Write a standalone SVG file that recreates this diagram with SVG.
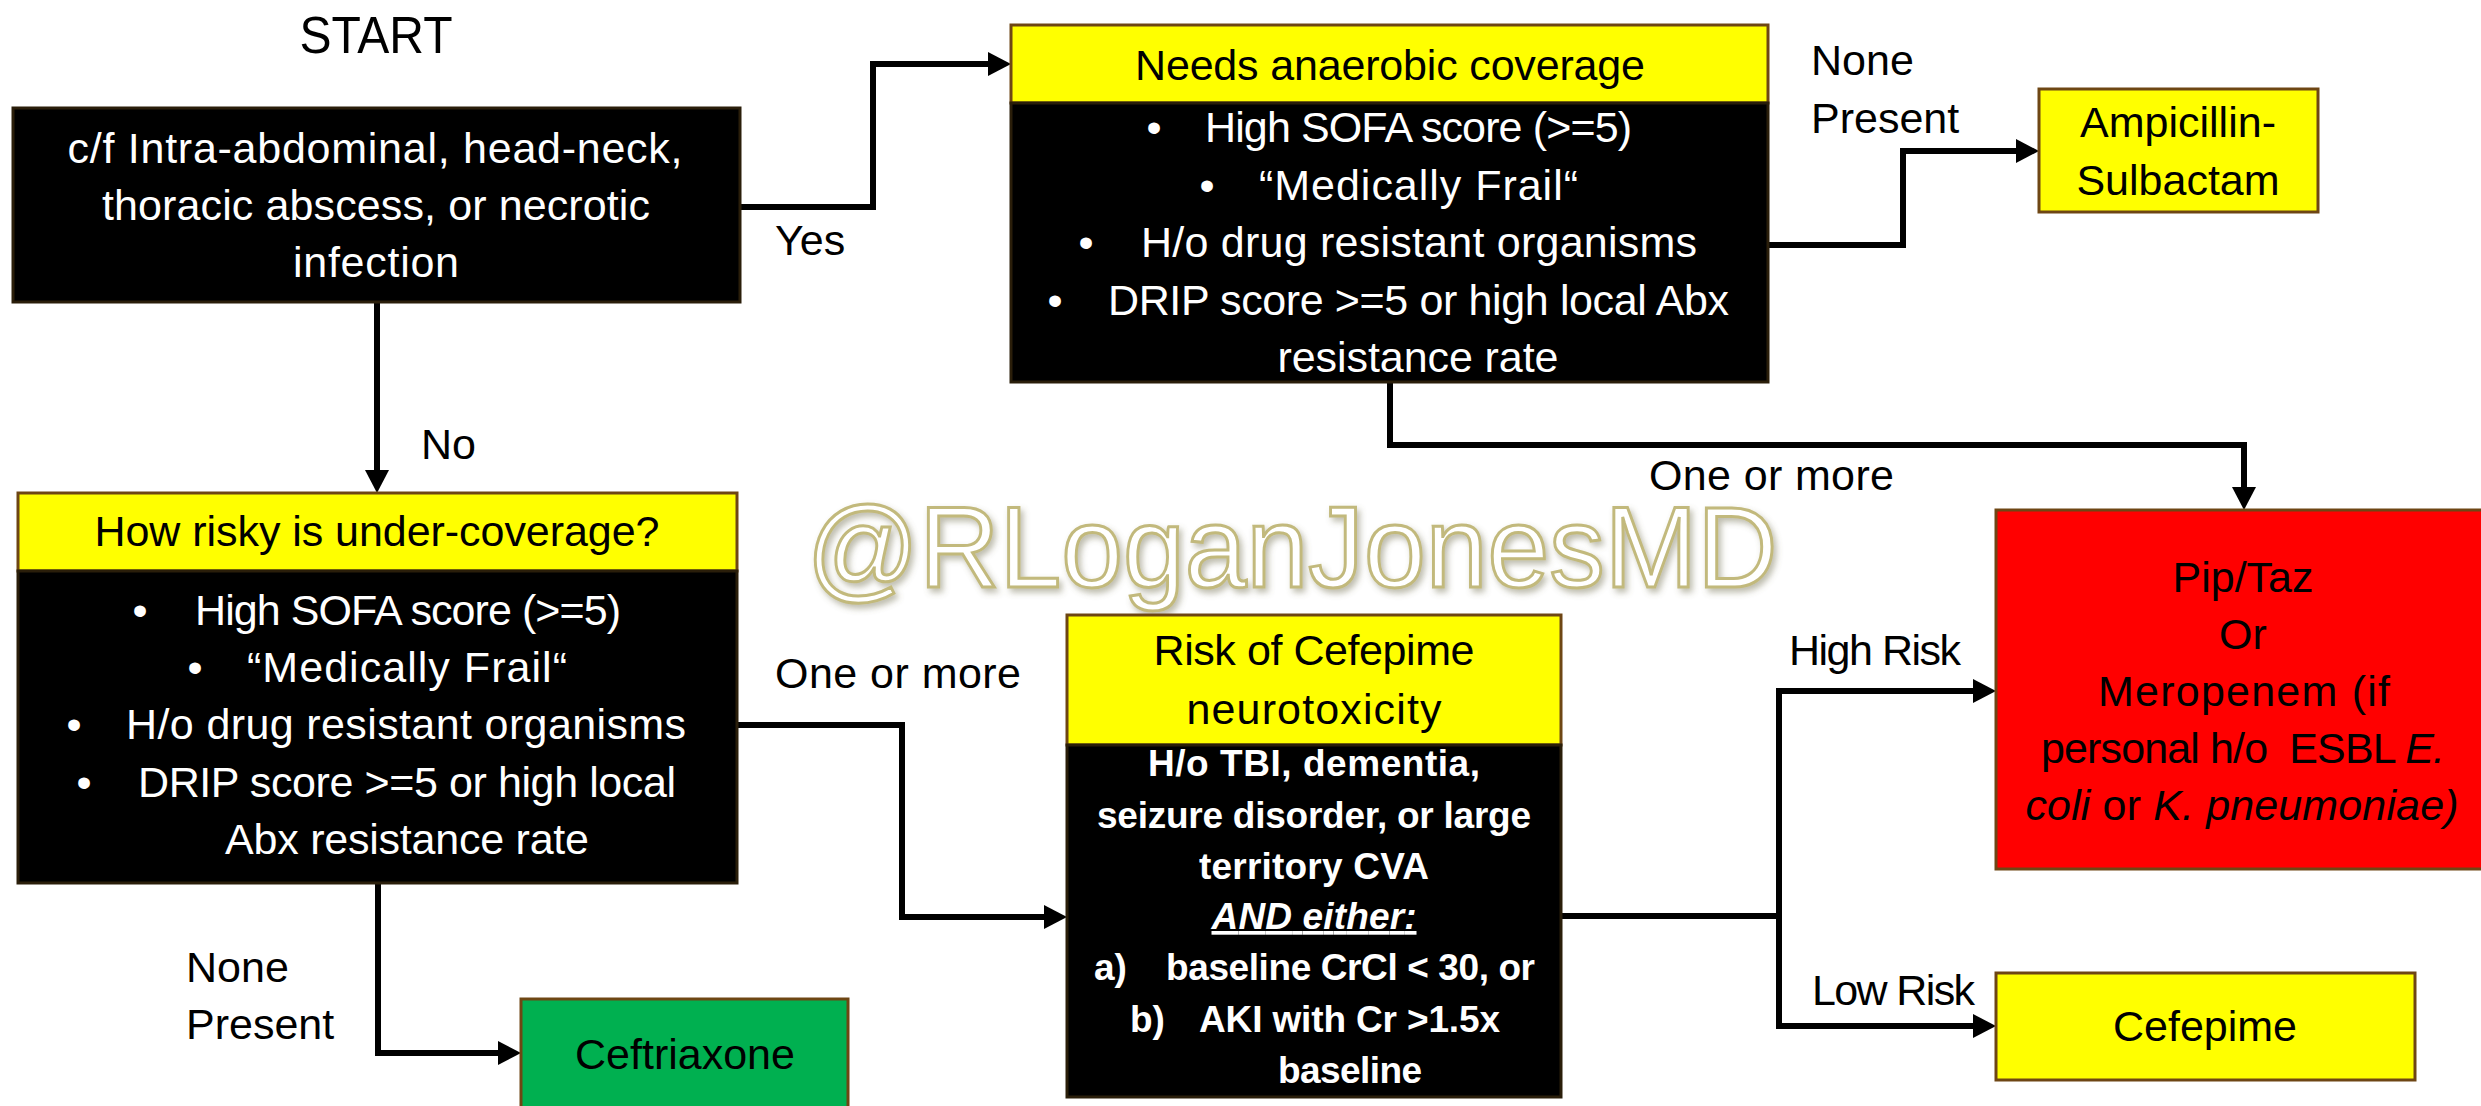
<svg xmlns="http://www.w3.org/2000/svg" width="2481" height="1106" viewBox="0 0 2481 1106">
<defs>
<style>
text{font-family:"Liberation Sans",Arial,sans-serif;font-size:43px}
.w{fill:#fff}
.k{fill:#000}
.c{text-anchor:middle}
.bd{font-weight:bold;font-size:37px}
.it{font-style:italic}
.yel{fill:#FFFF00;stroke:#6E4614;stroke-width:3}
.red{fill:#FF0000;stroke:#6E4614;stroke-width:3}
.grn{fill:#00B050;stroke:#6E4614;stroke-width:3}
.blk{fill:#000;stroke:#2a1e0a;stroke-width:3}
.conn{fill:none;stroke:#000;stroke-width:6;stroke-linejoin:miter;marker-end:url(#arr)}
.wm{font-size:115px;fill:#fff;stroke:#C2B97C;stroke-width:3}
</style>
<marker id="arr" markerUnits="userSpaceOnUse" viewBox="0 0 23 24" markerWidth="23" markerHeight="24" refX="3" refY="12" orient="auto">
<path d="M0,0 L23,12 L0,24 Z" fill="#000"/>
</marker>
<filter id="sh" x="-5%" y="-20%" width="110%" height="150%">
<feDropShadow dx="3" dy="4" stdDeviation="3" flood-color="#6f6a4a" flood-opacity="0.45"/>
</filter>
</defs>
<rect width="2481" height="1106" fill="#fff"/>

<g id="watermark">
<text class="wm c" x="1292" y="587" textLength="971" lengthAdjust="spacingAndGlyphs" filter="url(#sh)">@RLoganJonesMD</text>
</g>

<g id="connectors">
<path class="conn" d="M740,207 H873 V64 H991"/>
<path class="conn" d="M377,302 V473"/>
<path class="conn" d="M1768,245 H1903 V151 H2019"/>
<path class="conn" d="M1390,382 V445 H2244 V490"/>
<path class="conn" d="M737,725 H902 V917 H1047"/>
<path class="conn" d="M378,883 V1053 H501"/>
<path class="conn" d="M1561,916 H1779 V691 H1976"/>
<path class="conn" d="M1779,916 V1026 H1976"/>
<g id="labels">
<text class="k" x="775" y="255">Yes</text>
<text class="k" x="421" y="459">No</text>
<text class="k" x="1811" y="75">None</text>
<text class="k" x="1811" y="133">Present</text>
<text class="k" x="1649" y="490" textLength="245">One or more</text>
<text class="k" x="775" y="688" textLength="246">One or more</text>
<text class="k" x="186" y="982">None</text>
<text class="k" x="186" y="1039">Present</text>
<text class="k" x="1789" y="665" textLength="172">High Risk</text>
<text class="k" x="1812" y="1005" textLength="163">Low Risk</text>
</g>
</g>

<g id="start-label">
<text class="k c" x="376" y="53" style="font-size:52px" textLength="153" lengthAdjust="spacingAndGlyphs">START</text>
</g>

<g id="start">
<rect class="blk" x="13" y="108" width="727" height="194"/>
<text class="w c" x="375" y="163" textLength="615">c/f Intra-abdominal, head-neck,</text>
<text class="w c" x="376" y="220" textLength="548">thoracic abscess, or necrotic</text>
<text class="w c" x="376" y="277" textLength="166">infection</text>
</g>

<g id="anaerobic">
<rect class="yel" x="1011" y="25" width="757" height="78"/>
<rect class="blk" x="1011" y="103" width="757" height="279"/>
<text class="k c" x="1390" y="80" textLength="510">Needs anaerobic coverage</text>
<text class="w c" x="1154" y="142">•</text>
<text class="w" x="1205" y="142" textLength="427">High SOFA score (&gt;=5)</text>
<text class="w c" x="1207" y="200">•</text>
<text class="w" x="1259" y="200" textLength="319">“Medically Frail“</text>
<text class="w c" x="1086" y="257">•</text>
<text class="w" x="1141" y="257" textLength="556">H/o drug resistant organisms</text>
<text class="w c" x="1055" y="315">•</text>
<text class="w" x="1108" y="315" textLength="621">DRIP score &gt;=5 or high local Abx</text>
<text class="w c" x="1418" y="372" textLength="281">resistance rate</text>
</g>

<g id="ampicillin">
<rect class="yel" x="2039" y="89" width="279" height="123"/>
<text class="k c" x="2178" y="137">Ampicillin-</text>
<text class="k c" x="2178" y="195">Sulbactam</text>
</g>

<g id="risky">
<rect class="yel" x="18" y="493" width="719" height="78"/>
<rect class="blk" x="18" y="571" width="719" height="312"/>
<text class="k c" x="377" y="546" textLength="565">How risky is under-coverage?</text>
<text class="w c" x="140" y="625">•</text>
<text class="w" x="195" y="625" textLength="426">High SOFA score (&gt;=5)</text>
<text class="w c" x="195" y="682">•</text>
<text class="w" x="247" y="682" textLength="320">“Medically Frail“</text>
<text class="w c" x="74" y="739">•</text>
<text class="w" x="126" y="739" textLength="560">H/o drug resistant organisms</text>
<text class="w c" x="84" y="797">•</text>
<text class="w" x="138" y="797" textLength="538">DRIP score &gt;=5 or high local</text>
<text class="w c" x="407" y="854" textLength="364">Abx resistance rate</text>
</g>

<g id="ceftriaxone">
<rect class="grn" x="521" y="999" width="327" height="120"/>
<text class="k c" x="685" y="1069">Ceftriaxone</text>
</g>

<g id="cefepime-risk">
<rect class="yel" x="1067" y="615" width="494" height="130"/>
<rect class="blk" x="1067" y="745" width="494" height="352"/>
<text class="k c" x="1314" y="665" textLength="321">Risk of Cefepime</text>
<text class="k c" x="1314" y="724" textLength="255">neurotoxicity</text>
<text class="w c bd" x="1314" y="776" textLength="332">H/o TBI, dementia,</text>
<text class="w c bd" x="1314" y="828" textLength="434">seizure disorder, or large</text>
<text class="w c bd" x="1314" y="879" textLength="230">territory CVA</text>
<text class="w c bd it" x="1314" y="929" textLength="205" style="text-decoration:underline">AND either:</text>
<text class="w bd" x="1094" y="980">a)</text>
<text class="w bd" x="1166" y="980" textLength="369">baseline CrCl &lt; 30, or</text>
<text class="w bd" x="1130" y="1032">b)</text>
<text class="w bd" x="1199" y="1032" textLength="301">AKI with Cr &gt;1.5x</text>
<text class="w c bd" x="1350" y="1083" textLength="144">baseline</text>
</g>

<g id="piptaz">
<rect class="red" x="1996" y="510" width="500" height="359"/>
<text class="k c" x="2243" y="592">Pip/Taz</text>
<text class="k c" x="2243" y="649">Or</text>
<text class="k c" x="2244" y="706" textLength="292">Meropenem (if</text>
<text class="k c" x="2243" y="763" xml:space="preserve" textLength="404">personal h/o  ESBL <tspan class="it">E.</tspan></text>
<text class="k c" x="2242" y="820" xml:space="preserve" textLength="433"><tspan class="it">coli</tspan> or <tspan class="it">K. pneumoniae)</tspan></text>
</g>

<g id="cefepime">
<rect class="yel" x="1996" y="973" width="419" height="107"/>
<text class="k c" x="2205" y="1041">Cefepime</text>
</g>
</svg>
